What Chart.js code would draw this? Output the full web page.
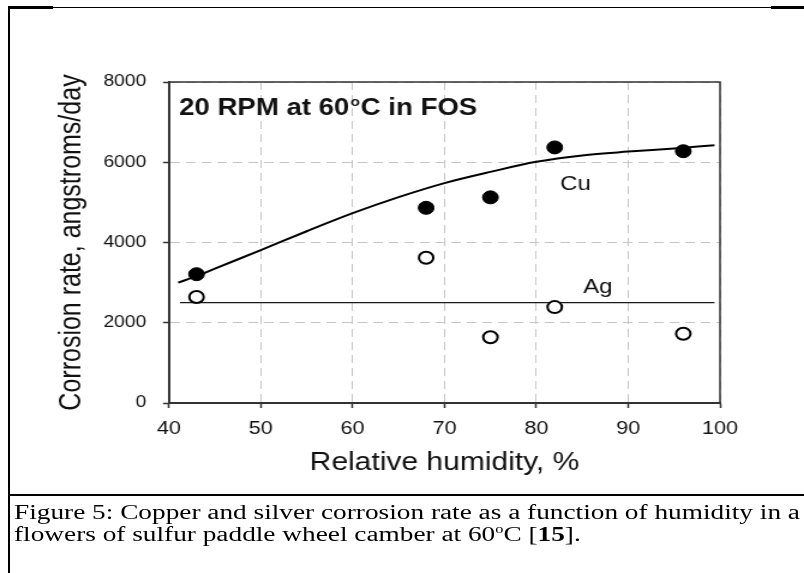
<!DOCTYPE html>
<html>
<head>
<meta charset="utf-8">
<script src="https://cdn.jsdelivr.net/npm/chart.js@4"></script>
<style>
  html, body { margin: 0; padding: 0; background: #fff; }
  body { width: 804px; height: 573px; position: relative; overflow: hidden; }
  #plot { position: absolute; left: 0; top: 0; width: 670px; height: 573px;
          transform: scaleX(1.2); transform-origin: 0 0; }
  .rule { position: absolute; background: #000; }
  #caption { position: absolute; left: 14px; top: 501px; color: #000; white-space: nowrap;
             font-family: "Liberation Serif", "Times New Roman", serif; font-size: 20px;
             line-height: 22px; transform-origin: 0 0; }
  #caption sup { font-size: 12px; line-height: 0; vertical-align: 8px; }
</style>
</head>
<body>
<div class="rule" style="left:8px;top:7px;width:796px;height:1px"></div>
<div class="rule" style="left:8px;top:6px;width:45px;height:3px"></div>
<div class="rule" style="left:771px;top:6px;width:33px;height:3px"></div>
<div class="rule" style="left:8px;top:6px;width:2px;height:567px"></div>
<div class="rule" style="left:8px;top:494px;width:796px;height:2px"></div>

<div id="plot"><canvas id="chart" width="670" height="573"></canvas></div>

<div id="caption">
  <div id="cap1">Figure 5: Copper and silver corrosion rate as a function of humidity in a</div>
  <div>flowers of sulfur paddle wheel camber at 60<sup>o</sup>C [<b>15</b>].</div>
</div>

<script>
// Measured corrosion rates (angstroms/day) against relative humidity (%)
const humidity   = [43, 68, 75, 82, 96];
const copperRate = [3210, 4865, 5125, 6370, 6275];
const silverRate = [2640, 3620, 1640, 2390, 1725];

// Fitted trend curves
const copperFitX = [41, 43, 45, 50, 55, 60, 65, 70, 75, 80, 85, 90, 95, 99.4];
const copperFitY = [3000, 3160, 3350, 3810, 4280, 4730, 5130, 5480, 5760, 6010, 6170, 6265, 6345, 6425];
const silverFitX = [41.2, 99.4];
const silverFitY = [2500, 2500];

// Axis ticks
const xTicks = [40, 50, 60, 70, 80, 90, 100];
const yTicks = [0, 2000, 4000, 6000, 8000];

const FONT = '"Liberation Sans", Arial, Helvetica, sans-serif';
const INK = '#111';
const AXIS = '#333';

const pts = (xs, ys) => xs.map((x, i) => ({ x: x, y: ys[i] }));

// Closes the plot box on the top and right sides
const boxPlugin = {
  id: 'box',
  afterDraw(chart) {
    const { ctx, chartArea: a } = chart;
    ctx.save();
    ctx.strokeStyle = AXIS;
    ctx.lineWidth = 1.5;
    ctx.beginPath();
    ctx.moveTo(a.left, a.top);
    ctx.lineTo(a.right, a.top);
    ctx.lineTo(a.right, a.bottom);
    ctx.stroke();
    ctx.restore();
  }
};

// In-plot text: condition header and series labels
const notesPlugin = {
  id: 'notes',
  afterDraw(chart, args, opts) {
    const { ctx } = chart;
    const xs = chart.scales.x, ys = chart.scales.y;
    ctx.save();
    ctx.fillStyle = INK;
    ctx.textBaseline = 'alphabetic';
    ctx.textAlign = 'left';

    // header with a superscript degree mark
    const h = opts.header;
    let px = xs.getPixelForValue(h.x);
    const py = ys.getPixelForValue(h.y);
    ctx.font = 'bold 23px ' + FONT;
    ctx.fillText(h.before, px, py);
    px += ctx.measureText(h.before).width + 1;
    ctx.font = 'bold 13px ' + FONT;
    ctx.fillText('o', px, py - 9);
    px += ctx.measureText('o').width + 0.5;
    ctx.font = 'bold 23px ' + FONT;
    ctx.fillText(h.after, px, py);

    ctx.font = '20px ' + FONT;
    opts.labels.forEach(l => {
      ctx.fillText(l.text, xs.getPixelForValue(l.x), ys.getPixelForValue(l.y));
    });
    ctx.restore();
  }
};

new Chart(document.getElementById('chart'), {
  type: 'scatter',
  data: {
    datasets: [
      { label: 'Cu', data: pts(humidity, copperRate), order: 0,
        pointStyle: 'circle', pointRadius: 6.5, backgroundColor: '#000',
        borderColor: '#000', borderWidth: 1 },
      { label: 'Ag', data: pts(humidity, silverRate), order: 0,
        pointStyle: 'circle', pointRadius: 6, backgroundColor: '#fff',
        borderColor: '#000', borderWidth: 2 },
      { label: 'Cu fit', data: pts(copperFitX, copperFitY), order: 1,
        showLine: true, pointRadius: 0, borderColor: '#000', borderWidth: 2,
        cubicInterpolationMode: 'monotone' },
      { label: 'Ag fit', data: pts(silverFitX, silverFitY), order: 1,
        showLine: true, pointRadius: 0, borderColor: '#1a1a1a', borderWidth: 1.3 }
    ]
  },
  options: {
    responsive: false,
    animation: false,
    devicePixelRatio: 1,
    layout: { padding: { left: 0, right: 70, top: 82, bottom: 70 } },
    plugins: {
      legend: { display: false },
      tooltip: { enabled: false },
      notes: {
        header: { x: 41.1, y: 7180, before: '20 RPM at 60', after: 'C in FOS' },
        labels: [
          { text: 'Cu', x: 82.6, y: 5320 },
          { text: 'Ag', x: 85.1, y: 2750 }
        ]
      }
    },
    scales: {
      x: {
        type: 'linear', min: 40, max: 100,
        afterBuildTicks: s => { s.ticks = xTicks.map(v => ({ value: v })); },
        afterFit: s => { s.height = 100; },
        grid: { color: '#c6c6c6', lineWidth: 1, tickColor: AXIS, tickLength: 5,
                tickWidth: 1.5, tickBorderDash: [] },
        border: { display: true, color: AXIS, width: 2, dash: [8, 5] },
        ticks: { font: { family: FONT, size: 18 }, color: INK, padding: 10, maxRotation: 0,
                 callback: v => String(v) },
        title: { display: true, text: 'Relative humidity, %', color: INK,
                 font: { family: FONT, size: 25 }, padding: { top: 0, bottom: 25 } }
      },
      y: {
        type: 'linear', min: 0, max: 8000,
        afterBuildTicks: s => { s.ticks = yTicks.map(v => ({ value: v })); },
        afterFit: s => { s.width = 140.8; },
        grid: { color: '#c6c6c6', lineWidth: 1, tickColor: AXIS, tickLength: 5,
                tickWidth: 1.5, tickBorderDash: [] },
        border: { display: true, color: AXIS, width: 2, dash: [8, 5] },
        ticks: { font: { family: FONT, size: 16 }, color: INK, padding: 14,
                 callback: v => String(v) },
        title: { display: true, text: 'Corrosion rate, angstroms/day', color: INK,
                 font: { family: FONT, size: 25 }, padding: { top: 45.5, bottom: 0 } }
      }
    }
  },
  plugins: [boxPlugin, notesPlugin]
});

// Fit the caption block to the framed width
const cap = document.getElementById('caption');
const natural = document.getElementById('cap1').offsetWidth;
cap.style.transform = 'scaleX(' + (786 / natural).toFixed(4) + ')';
</script>
</body>
</html>
